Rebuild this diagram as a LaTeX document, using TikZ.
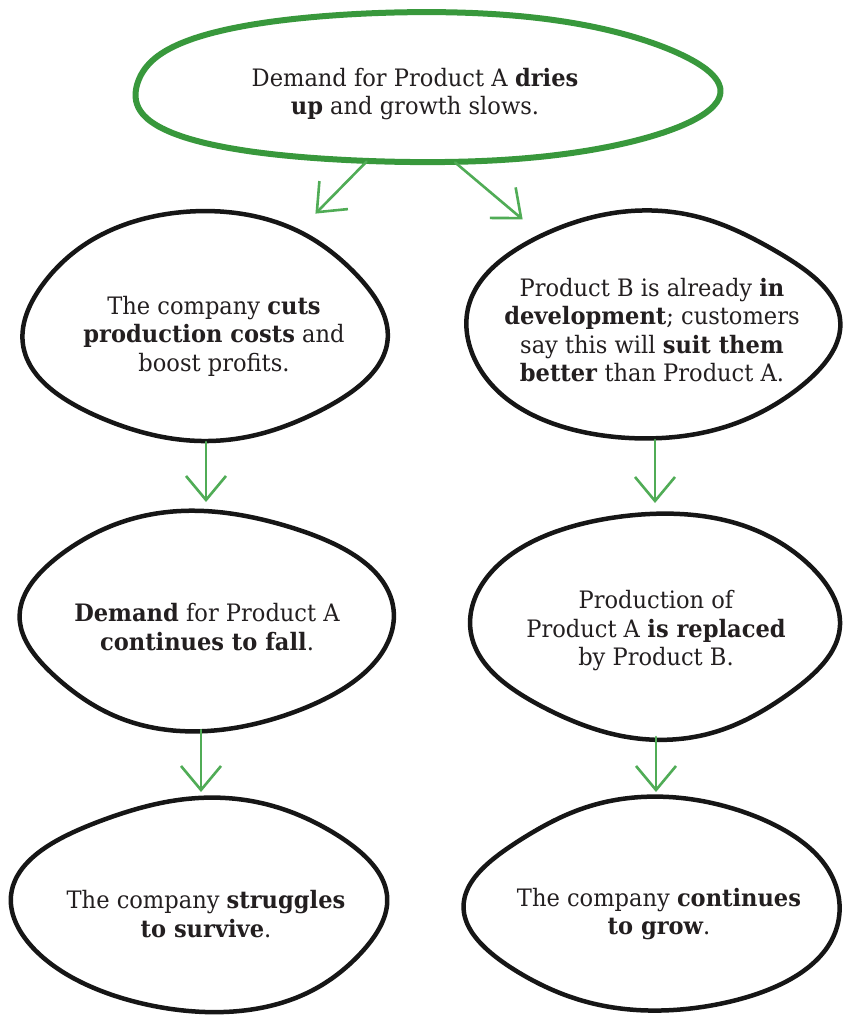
\documentclass[tikz,border=0pt]{standalone}
\usepackage{fontspec}
\setmainfont{DejaVu Serif}[FakeStretch=0.94]
\usetikzlibrary{arrows.meta,shapes.geometric}
\definecolor{topgreen}{RGB}{56,152,60}
\definecolor{arrgreen}{RGB}{80,172,86}
\definecolor{ink}{RGB}{22,22,22}
\definecolor{txtcol}{RGB}{35,31,32}
% #1 node, #2 rx, #3 ry, #4 phase, #5 squareness, #6 style
\newcommand\handblob[6]{%
  \draw[#6, shift={(#1.center)}] plot[domain=0:355, samples=72, smooth cycle]
   ({#2*(1+#5*(1-cos(4*\x))/2+0.018*sin(3*\x+#4)+0.010*sin(5*\x+2*#4))*cos(\x)},
    {#3*(1+#5*(1-cos(4*\x))/2+0.018*sin(3*\x+#4)+0.010*sin(5*\x+2*#4))*sin(\x)});}
\tikzset{
  bnode/.style={shape=ellipse, draw=none, inner sep=0pt, outer sep=0pt},
  txt/.style={align=center, text=txtcol, font=\fontsize{24}{28.5}\selectfont, inner sep=0pt},
  blobline/.style={draw=ink, line width=4.5pt, line join=round},
  topline/.style={draw=topgreen, line width=6pt, line join=round},
  garrow/.style={draw=arrgreen, line width=2.6pt, line cap=round,
    -{Straight Barb[length=24pt,width=40pt,line width=2.6pt]}}
}
\begin{document}
\begin{tikzpicture}[x=1pt,y=-1pt]
\useasboundingbox (0,0) rectangle (848,1015);
\fill[white] (0,0) rectangle (848,1015);
% shape nodes
\node[bnode, minimum width=584pt, minimum height=150pt] (T) at (422,88) {};
\node[bnode, minimum width=364pt, minimum height=230pt] (L1) at (204,327) {};
\node[bnode, minimum width=374pt, minimum height=228pt] (R1) at (649,326) {};
\node[bnode, minimum width=374pt, minimum height=220pt] (L2) at (206,620) {};
\node[bnode, minimum width=370pt, minimum height=226pt] (R2) at (655,624) {};
\node[bnode, minimum width=376pt, minimum height=214pt] (L3) at (201,905) {};
\node[bnode, minimum width=376pt, minimum height=214pt] (R3) at (656,905) {};
% outlines
\handblob{T}{292}{75}{40}{0.02}{topline}
\handblob{L1}{182}{115}{10}{-0.03}{blobline}
\handblob{R1}{187}{114}{70}{-0.03}{blobline}
\handblob{L2}{187}{110}{130}{-0.03}{blobline}
\handblob{R2}{185}{113}{200}{-0.03}{blobline}
\handblob{L3}{188}{107}{250}{-0.03}{blobline}
\handblob{R3}{188}{107}{310}{-0.03}{blobline}
% texts
\node[txt] (Tt) at (415,94) {Demand for Product A \textbf{dries}\\ \textbf{up} and growth slows.};
\node[txt] (L1t) at (214,336) {The company \textbf{cuts}\\ \textbf{production costs} and\\ boost profits.};
\node[txt] (R1t) at (652,330) {Product B is already \textbf{in}\\ \textbf{development}; customers\\ say this will \textbf{suit them}\\ \textbf{better} than Product A.};
\node[txt] (L2t) at (207,627) {\textbf{Demand} for Product A\\ \textbf{continues to fall}.};
\node[txt] (R2t) at (656,631) {Production of\\ Product A \textbf{is replaced}\\ by Product B.};
\node[txt] (L3t) at (206,914) {The company \textbf{struggles}\\ \textbf{to survive}.};
\node[txt] (R3t) at (659,914) {The company \textbf{continues}\\ \textbf{to grow}.};
% connectors
\draw[garrow, shorten >=22pt] (T.233) -- (L1);
\draw[garrow, shorten >=22pt] (T.294) -- (R1);
\draw[garrow, shorten >=8pt] (L2.north |- L1.south) -- (L2.north);
\draw[garrow, shorten >=8pt] (R2.north |- R1.south) -- (R2.north);
\draw[garrow, shorten >=6pt] (L3.north |- L2.south) -- (L3.north);
\draw[garrow, shorten >=6pt] (R3.north |- R2.south) -- (R3.north);
\end{tikzpicture}
\end{document}
